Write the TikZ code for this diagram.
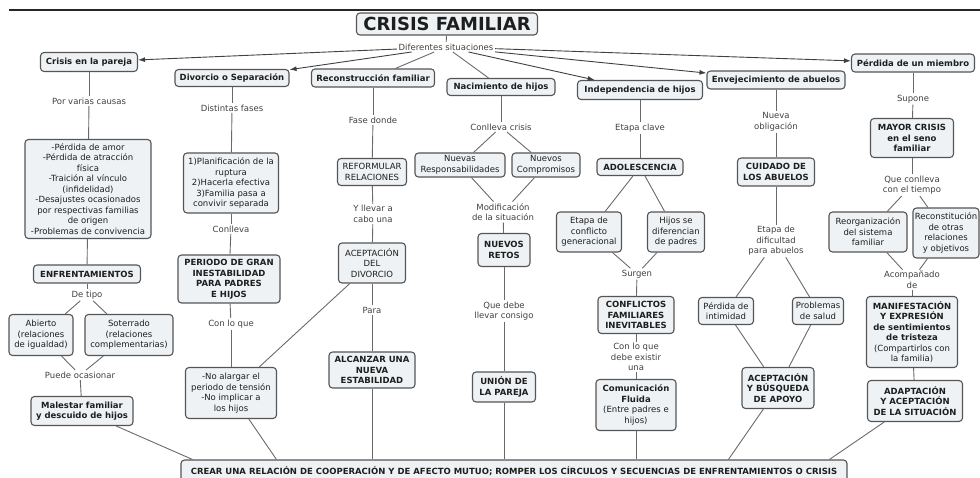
\documentclass[tikz,border=0pt]{standalone}
\usepackage{fontspec}
\setmainfont{DejaVu Sans}
\usepackage{xcolor}
\usepackage{tikz}
\usetikzlibrary{arrows, arrows.meta}
\definecolor{boxfill}{HTML}{EEF2F4}
\definecolor{boxline}{HTML}{555555}
\definecolor{linkline}{HTML}{6A6A6A}
\definecolor{textdark}{HTML}{1E1E1E}

\begin{document}
\begin{tikzpicture}[x=1pt, y=-1pt,
	box/.style={draw=boxline, line width=1.1pt, fill=boxfill, rounded corners=3.5pt, align=center, inner sep=2pt, text=textdark, font=\fontsize{8.5}{10.5}\selectfont},
	boldbox/.style={box, font=\fontsize{8.5}{10.5}\selectfont\bfseries},
	linkword/.style={align=center, inner sep=1.5pt, text=black!75, font=\fontsize{8.5}{10.5}\selectfont},
	link/.style={draw=linkline, line width=0.9pt},
	arrowlink/.style={draw=black!75, line width=0.9pt, -{Latex[length=7pt,width=5pt]}}]
				\useasboundingbox (0,0) rectangle (980,478);
				\clip (0,0) rectangle (980,478);
				\draw[line width=2.5pt, black!85] (9,10) -- (980,10);
				\node[boldbox, font=\fontsize{18}{20}\selectfont\bfseries, minimum width=181, minimum height=22](nodetitle) at (447,24){CRISIS FAMILIAR};
				\node[linkword](nodesit) at (446,47){Diferentes situaciones};
				\node[boldbox, minimum width=666, minimum height=22](nodebar) at (514,471){CREAR UNA RELACIÓN DE COOPERACIÓN Y DE AFECTO MUTUO; ROMPER LOS CÍRCULOS Y SECUENCIAS DE ENFRENTAMIENTOS O CRISIS};
				\node[boldbox, minimum width=97, minimum height=19](node00) at (89,62){Crisis en la pareja};
				\node[linkword](node01) at (89,101){Por varias causas};
				\node[box, minimum width=126, minimum height=99](node02) at (88,189){-Pérdida de amor\\-Pérdida de atracción\\física\\-Traición al vínculo\\(infidelidad)\\-Desajustes ocasionados\\por respectivas familias\\de origen\\-Problemas de convivencia};
				\node[boldbox, minimum width=107, minimum height=18](node03) at (87,274){ENFRENTAMIENTOS};
				\node[linkword](node04) at (87,295){De tipo};
				\node[box, minimum width=64, minimum height=41](node05a) at (41,335){Abierto\\(relaciones\\de igualdad)};
				\node[box, minimum width=88, minimum height=41](node05b) at (129,335){Soterrado\\(relaciones\\complementarias)};
				\node[linkword](node06) at (80,375){Puede ocasionar};
				\node[boldbox, minimum width=102, minimum height=29](node07) at (82,411){Malestar familiar\\y descuido de hijos};
				\node[boldbox, minimum width=114, minimum height=17](node10) at (232,78){Divorcio o Separación};
				\node[linkword](node11) at (232,108){Distintas fases};
				\node[box, minimum width=95, minimum height=60](node12) at (231,183){1)Planificación de la\\ruptura\\2)Hacerla efectiva\\3)Familia pasa a\\convivir separada};
				\node[linkword](node13) at (231,229){Conlleva};
				\node[boldbox, minimum width=102, minimum height=48](node14) at (229,279){PERIODO DE GRAN\\INESTABILIDAD\\PARA PADRES\\E HIJOS};
				\node[linkword](node15) at (231,324){Con lo que};
				\node[box, minimum width=91, minimum height=51](node16) at (231,393){-No alargar el\\periodo de tensión\\-No implicar a\\los hijos};
				\node[boldbox, minimum width=123, minimum height=18](node20) at (373,78){Reconstrucción familiar};
				\node[linkword](node21) at (373,120){Fase donde};
				\node[box, minimum width=69, minimum height=27](node22) at (372,172){REFORMULAR\\RELACIONES};
				\node[linkword](node23) at (373,214){Y llevar a\\cabo una};
				\node[box, minimum width=67, minimum height=40](node24) at (372,263){ACEPTACIÓN\\DEL\\DIVORCIO};
				\node[linkword](node25) at (372,310){Para};
				\node[boldbox, minimum width=86, minimum height=36](node26) at (372,370){ALCANZAR UNA\\NUEVA\\ESTABILIDAD};
				\node[boldbox, minimum width=108, minimum height=17](node30) at (501,87){Nacimiento de hijos};
				\node[linkword](node31) at (501,127){Conlleva crisis};
				\node[box, minimum width=90, minimum height=24](node32a) at (460,165){Nuevas\\Responsabilidades};
				\node[box, minimum width=68, minimum height=24](node32b) at (546,165){Nuevos\\Compromisos};
				\node[linkword](node33) at (503,212){Modificación\\de la situación};
				\node[boldbox, minimum width=52, minimum height=33](node34) at (504,250){NUEVOS\\RETOS};
				\node[linkword](node35) at (504,311){Que debe\\llevar consigo};
				\node[boldbox, minimum width=63, minimum height=30](node36) at (504,387){UNIÓN DE\\LA PAREJA};
				\node[boldbox, minimum width=125, minimum height=19](node40) at (640,90){Independencia de hijos};
				\node[linkword](node41) at (640,128){Etapa clave};
				\node[boldbox, minimum width=86, minimum height=17](node42) at (640,167){ADOLESCENCIA};
				\node[box, minimum width=65, minimum height=40](node43a) at (589,232){Etapa de\\conflicto\\generacional};
				\node[box, minimum width=57, minimum height=40](node43b) at (676,232){Hijos se\\diferencian\\de padres};
				\node[linkword](node44) at (637,274){Surgen};
				\node[boldbox, minimum width=76, minimum height=37](node45) at (636,315){CONFLICTOS\\FAMILIARES\\INEVITABLES};
				\node[linkword](node46) at (636,357){Con lo que\\debe existir\\una};
				\node[box, minimum width=80, minimum height=51](node47) at (636,405){\textbf{Comunicación}\\\textbf{Fluida}\\(Entre padres e\\hijos)};
				\node[boldbox, minimum width=138, minimum height=18](node50) at (776,80){Envejecimiento de abuelos};
				\node[linkword](node51) at (776,122){Nueva\\obligación};
				\node[boldbox, minimum width=77, minimum height=28](node52) at (776,172){CUIDADO DE\\LOS ABUELOS};
				\node[linkword](node53) at (776,241){Etapa de\\dificultad\\para abuelos};
				\node[box, minimum width=55, minimum height=27](node54a) at (726,311){Pérdida de\\intimidad};
				\node[box, minimum width=51, minimum height=27](node54b) at (818,311){Problemas\\de salud};
				\node[boldbox, minimum width=72, minimum height=41](node55) at (778,388){ACEPTACIÓN\\Y BÚSQUEDA\\DE APOYO};
				\node[boldbox, minimum width=123, minimum height=18](node60) at (913,63){Pérdida de un miembro};
				\node[linkword](node61) at (913,99){Supone};
				\node[boldbox, minimum width=83, minimum height=39](node62) at (912,138){MAYOR CRISIS\\en el seno\\familiar};
				\node[linkword](node63) at (912,185){Que conlleva\\con el tiempo};
				\node[box, minimum width=78, minimum height=40](node64a) at (868,232){Reorganización\\del sistema\\familiar};
				\node[box, inner sep=1.5pt, minimum width=66, minimum height=50](node64b) at (946,233){Reconstitución\\de otras\\relaciones\\y objetivos};
				\node[linkword](node65) at (912,280){Acompañado\\de};
				\node[box, minimum width=91, minimum height=71](node66) at (912,332){\textbf{MANIFESTACIÓN}\\\textbf{Y EXPRESIÓN}\\\textbf{de sentimientos}\\\textbf{de tristeza}\\(Compartirlos con\\la familia)};
				\node[boldbox, minimum width=95, minimum height=41](node67) at (915,401){ADAPTACIÓN\\Y ACEPTACIÓN\\DE LA SITUACIÓN};
				\draw[link] (nodetitle) -- (nodesit);
				\draw[arrowlink] (nodesit) -- (node00);
				\draw[arrowlink] (nodesit) -- (node10);
				\draw[link] (nodesit) -- (node20);
				\draw[link] (nodesit) -- (node30);
				\draw[arrowlink] (nodesit) -- (node40);
				\draw[arrowlink] (nodesit) -- (node50);
				\draw[arrowlink] (nodesit) -- (node60);
				\draw[link] (node00) -- (node01);
				\draw[link] (node01) -- (node02);
				\draw[link] (node02) -- (node03);
				\draw[link] (node03) -- (node04);
				\draw[link] (node04) -- (node05a);
				\draw[link] (node04) -- (node05b);
				\draw[link] (node05a) -- (node06);
				\draw[link] (node05b) -- (node06);
				\draw[link] (node06) -- (node07);
				\draw[link] (node07) -- ([xshift=12]nodebar.north west);
				\draw[link] (node10) -- (node11);
				\draw[link] (node11) -- (node12);
				\draw[link] (node12) -- (node13);
				\draw[link] (node13) -- (node14);
				\draw[link] (node14) -- (node15);
				\draw[link] (node15) -- (node16);
				\draw[link] (node16) -- ([xshift=96]nodebar.north west);
				\draw[link] (node20) -- (node21);
				\draw[link] (node21) -- (node22);
				\draw[link] (node22) -- (node23);
				\draw[link] (node23) -- (node24);
				\draw[link] (node24) -- (node25);
				\draw[link] (node25) -- (node26);
				\draw[link] (node24) -- (node16);
				\draw[link] (node26) -- (node26 |- nodebar.north);
				\draw[link] (node30) -- (node31);
				\draw[link] (node31) -- (node32a);
				\draw[link] (node31) -- (node32b);
				\draw[link] (node32a) -- (node33);
				\draw[link] (node32b) -- (node33);
				\draw[link] (node33) -- (node34);
				\draw[link] (node34) -- (node35);
				\draw[link] (node35) -- (node36);
				\draw[link] (node36) -- (node36 |- nodebar.north);
				\draw[link] (node40) -- (node41);
				\draw[link] (node41) -- (node42);
				\draw[link] (node42) -- (node43a);
				\draw[link] (node42) -- (node43b);
				\draw[link] (node43a) -- (node44);
				\draw[link] (node43b) -- (node44);
				\draw[link] (node44) -- (node45);
				\draw[link] (node45) -- (node46);
				\draw[link] (node46) -- (node47);
				\draw[link] (node47) -- (node47 |- nodebar.north);
				\draw[link] (node50) -- (node51);
				\draw[link] (node51) -- (node52);
				\draw[link] (node52) -- (node53);
				\draw[link] (node53) -- (node54a);
				\draw[link] (node53) -- (node54b);
				\draw[link] (node54a) -- (node55);
				\draw[link] (node54b) -- (node55);
				\draw[link] (node55) -- ([xshift=548]nodebar.north west);
				\draw[link] (node60) -- (node61);
				\draw[link] (node61) -- (node62);
				\draw[link] (node62) -- (node63);
				\draw[link] (node63) -- (node64a);
				\draw[link] (node63) -- (node64b);
				\draw[link] (node64a) -- (node65);
				\draw[link] (node64b) -- (node65);
				\draw[link] (node65) -- (node66);
				\draw[link] (node66) -- (node67);
				\draw[link] (node67) -- ([xshift=649]nodebar.north west);
\end{tikzpicture}
\end{document}
